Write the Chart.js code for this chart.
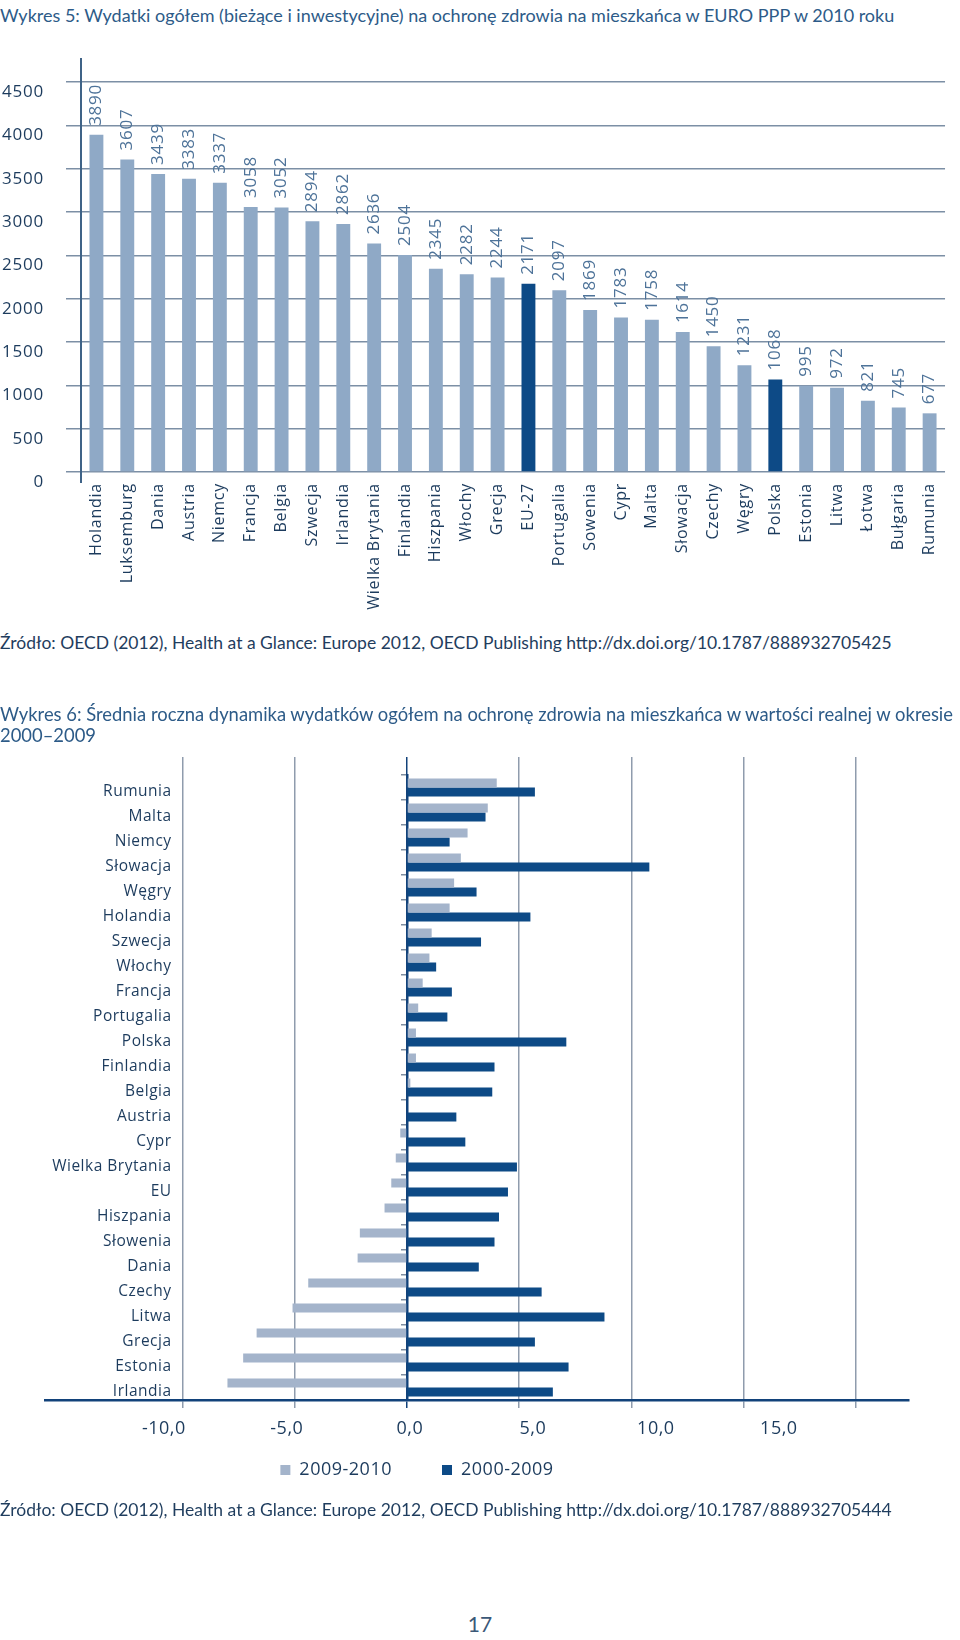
<!DOCTYPE html>
<html lang="pl">
<head>
<meta charset="utf-8">
<title>Wydatki na ochronę zdrowia</title>
<script src="https://cdn.jsdelivr.net/npm/chart.js@4.4.1/dist/chart.umd.min.js"></script>
<style>
  html, body { margin: 0; padding: 0; background: #fff; }
  body { width: 960px; height: 1640px; position: relative; overflow: hidden; font-family: Lato, "Open Sans", sans-serif; }
  .title { position: absolute; left: 0; color: #2d5b88; font-size: 18px; line-height: 21px; white-space: nowrap; z-index: 1; }
  .source { position: absolute; left: 0; color: #1f3d5e; font-size: 17.5px; line-height: 20px; white-space: nowrap; z-index: 1; }
  .page { position: absolute; left: 0; width: 960px; top: 1612px; text-align: center; font-size: 21px; line-height: 24px; color: #3b5878; }
  canvas { position: absolute; left: 0; }
  #c1 { top: 30px; }
  #c2 { top: 745px; }
</style>
</head>
<body>
<div class="title" style="top:5px">Wykres 5: Wydatki ogółem (bieżące i inwestycyjne) na ochronę zdrowia na mieszkańca w EURO PPP w 2010 roku</div>
<canvas id="c1" width="960" height="600"></canvas>
<div class="source" style="top:633px">Źródło: OECD (2012), Health at a Glance: Europe 2012, OECD Publishing http://dx.doi.org/10.1787/888932705425</div>

<div class="title" style="top:704px; font-size:18.4px">Wykres 6: Średnia roczna dynamika wydatków ogółem na ochronę zdrowia na mieszkańca w wartości realnej w okresie<br>2000–2009</div>
<canvas id="c2" width="960" height="773"></canvas>
<div class="source" style="top:1500px">Źródło: OECD (2012), Health at a Glance: Europe 2012, OECD Publishing http://dx.doi.org/10.1787/888932705444</div>
<div class="page">17</div>

<script>
// Wykres 5 - wydatki na mieszkańca, EURO PPP, 2010
const countries5 = ['Holandia', 'Luksemburg', 'Dania', 'Austria', 'Niemcy', 'Francja', 'Belgia', 'Szwecja', 'Irlandia',
    'Wielka Brytania', 'Finlandia', 'Hiszpania', 'Włochy', 'Grecja', 'EU-27', 'Portugalia', 'Sowenia', 'Cypr', 'Malta',
    'Słowacja', 'Czechy', 'Węgry', 'Polska', 'Estonia', 'Litwa', 'Łotwa', 'Bułgaria', 'Rumunia'];
const spending2010 = [3890, 3607, 3439, 3383, 3337, 3058, 3052, 2894, 2862, 2636, 2504, 2345, 2282, 2244, 2171,
    2097, 1869, 1783, 1758, 1614, 1450, 1231, 1068, 995, 972, 821, 745, 677];
const highlighted5 = ['EU-27', 'Polska'];
const yTicks5 = [0, 500, 1000, 1500, 2000, 2500, 3000, 3500, 4000, 4500];

// Wykres 6 - średnia roczna dynamika wydatków (%)
const countries6 = ['Rumunia', 'Malta', 'Niemcy', 'Słowacja', 'Węgry', 'Holandia', 'Szwecja', 'Włochy', 'Francja',
    'Portugalia', 'Polska', 'Finlandia', 'Belgia', 'Austria', 'Cypr', 'Wielka Brytania', 'EU', 'Hiszpania',
    'Słowenia', 'Dania', 'Czechy', 'Litwa', 'Grecja', 'Estonia', 'Irlandia'];
const growth0910 = [4.0, 3.6, 2.7, 2.4, 2.1, 1.9, 1.1, 1.0, 0.7, 0.5, 0.4, 0.4, 0.15, 0.0, -0.3, -0.5, -0.7, -1.0,
    -2.1, -2.2, -4.4, -5.1, -6.7, -7.3, -8.0];
const growth0009 = [5.7, 3.5, 1.9, 10.8, 3.1, 5.5, 3.3, 1.3, 2.0, 1.8, 7.1, 3.9, 3.8, 2.2, 2.6, 4.9, 4.5, 4.1,
    3.9, 3.2, 6.0, 8.8, 5.7, 7.2, 6.5];
const seriesNames6 = ['2009-2010', '2000-2009'];
const gridTicks6 = [-10, -5, 0, 5, 10, 15, 20];
const labelTicks6 = [-10, -5, 0, 5, 10, 15];

const navy = '#1c3b5d';
const lightBar = '#8fa9c6';
const darkBar = '#0d4a86';

Chart.defaults.font.family = '"Open Sans", sans-serif';
Chart.defaults.animation = false;

// canvas text in the original is set a bit wider
function letterSpacing(px) {
    return {
        id: 'letterSpacing',
        beforeUpdate(chart) { chart.ctx.letterSpacing = px; },
        beforeDraw(chart) { chart.ctx.letterSpacing = px; }
    };
}

// vertical value labels above bars
const barValueLabels = {
    id: 'barValueLabels',
    afterDatasetsDraw(chart) {
        const ctx = chart.ctx;
        const meta = chart.getDatasetMeta(0);
        ctx.save();
        ctx.fillStyle = '#4e7399';
        ctx.font = '17px "Open Sans", sans-serif';
        ctx.textAlign = 'left';
        ctx.textBaseline = 'middle';
        meta.data.forEach((bar, i) => {
            ctx.save();
            ctx.translate(bar.x, bar.y - 9);
            ctx.rotate(-Math.PI / 2);
            ctx.fillText(String(spending2010[i]), 0, 0);
            ctx.restore();
        });
        ctx.restore();
    }
};

// y axis line runs a little past the plot
const axisOverhang = {
    id: 'axisOverhang',
    afterDraw(chart) {
        const {ctx, chartArea} = chart;
        ctx.save();
        ctx.strokeStyle = '#3f6387';
        ctx.lineWidth = 2;
        ctx.beginPath();
        ctx.moveTo(chartArea.left, chartArea.top - 24);
        ctx.lineTo(chartArea.left, chartArea.bottom + 11);
        ctx.stroke();
        ctx.restore();
    }
};

new Chart(document.getElementById('c1'), {
    type: 'bar',
    data: {
        labels: countries5,
        datasets: [{
            data: spending2010,
            backgroundColor: countries5.map(c => highlighted5.includes(c) ? darkBar : lightBar),
            borderWidth: 0,
            categoryPercentage: 0.9,
            barPercentage: 0.5
        }]
    },
    options: {
        responsive: false,
        layout: { padding: { top: 52, right: 11, left: 0, bottom: 0 } },
        plugins: { legend: { display: false }, tooltip: { enabled: false } },
        scales: {
            x: {
                afterFit: s => { s.height = 158; },
                grid: { display: false, drawTicks: false },
                border: { display: false },
                ticks: {
                    autoSkip: false, minRotation: 90, maxRotation: 90, padding: 11,
                    color: navy, font: { size: 16 }
                }
            },
            y: {
                min: 0, max: 4500,
                afterFit: s => { s.width = 81; },
                afterBuildTicks: s => { s.ticks = yTicks5.map(v => ({ value: v })); },
                grid: { color: '#7c8fa5', lineWidth: 1.5, tickLength: 15 },
                border: { display: true, color: '#3f6387', width: 2 },
                ticks: {
                    padding: 22, labelOffset: 10, color: navy, font: { size: 17 },
                    callback: v => String(v)
                }
            }
        }
    },
    plugins: [letterSpacing('0.75px'), barValueLabels, axisOverhang]
});

// Wykres 6
const grid6 = '#8f9cad';
const axis6 = '#12427a';
const hiddenLow = v => v < -10;

// legend sits left of the plot centre in the original
const legendShift = {
    id: 'legendShift',
    afterLayout(chart) {
        const l = chart.legend;
        l.left -= 60; l.right -= 60;
        l.top -= 29; l.bottom -= 29;
    }
};

new Chart(document.getElementById('c2'), {
    type: 'bar',
    data: {
        labels: countries6,
        datasets: [
            { label: seriesNames6[0], data: growth0910, backgroundColor: '#a4b4cb', borderWidth: 0 },
            { label: seriesNames6[1], data: growth0009, backgroundColor: darkBar, borderWidth: 0 }
        ]
    },
    options: {
        responsive: false,
        indexAxis: 'y',
        datasets: { bar: { categoryPercentage: 0.72, barPercentage: 1 } },
        layout: { padding: { top: 12, left: 45, right: 51, bottom: 0 } },
        plugins: {
            tooltip: { enabled: false },
            legend: {
                position: 'bottom',
                labels: { boxWidth: 10, boxHeight: 10, padding: 50, color: navy, font: { size: 18 } }
            }
        },
        scales: {
            x: {
                type: 'linear', position: 'bottom', min: -16.13, max: 22.37,
                afterBuildTicks: s => { s.ticks = gridTicks6.map(v => ({ value: v })); },
                ticks: { display: false },
                grid: {
                    lineWidth: 1.5, tickLength: 8,
                    color: c => hiddenLow(c.tick.value) ? 'rgba(0,0,0,0)' : grid6,
                    tickColor: c => c.tick.value === 0 ? axis6 : grid6
                },
                border: { display: true, color: axis6, width: 2.5 }
            },
            xl: {
                type: 'linear', axis: 'x', position: 'bottom', weight: 1, min: -14.83, max: 20.29,
                afterBuildTicks: s => { s.ticks = labelTicks6.map(v => ({ value: v })); },
                afterFit: s => { s.height = 32; },
                grid: { display: false, drawTicks: false },
                border: { display: false },
                ticks: {
                    padding: 10, color: navy, font: { size: 18 },
                    callback: v => v.toFixed(1).replace('.', ',')
                }
            },
            xTop: {
                type: 'linear', axis: 'x', position: 'top', min: -16.13, max: 22.37,
                afterBuildTicks: s => { s.ticks = gridTicks6.map(v => ({ value: v })); },
                ticks: { display: false },
                grid: {
                    drawOnChartArea: false, tickLength: 18, lineWidth: 1.5,
                    color: c => c.tick.value === 0 ? axis6 : grid6
                },
                border: { display: false }
            },
            y: {
                type: 'category', axis: 'y', position: { x: -10.49 }, offset: true,
                grid: { display: false, drawTicks: false },
                border: { display: false },
                ticks: { autoSkip: false, padding: 0, labelOffset: 4, color: navy, font: { size: 15.5 } }
            },
            yZero: {
                type: 'category', axis: 'y', position: { x: 0 }, offset: true,
                grid: { offset: true, drawOnChartArea: false, tickLength: 5, lineWidth: 1.5, color: '#7f8ea0' },
                border: { display: true, color: axis6, width: 2.5 },
                ticks: { display: false }
            }
        }
    },
    plugins: [letterSpacing('0.5px'), legendShift]
});
</script>
</body>
</html>
